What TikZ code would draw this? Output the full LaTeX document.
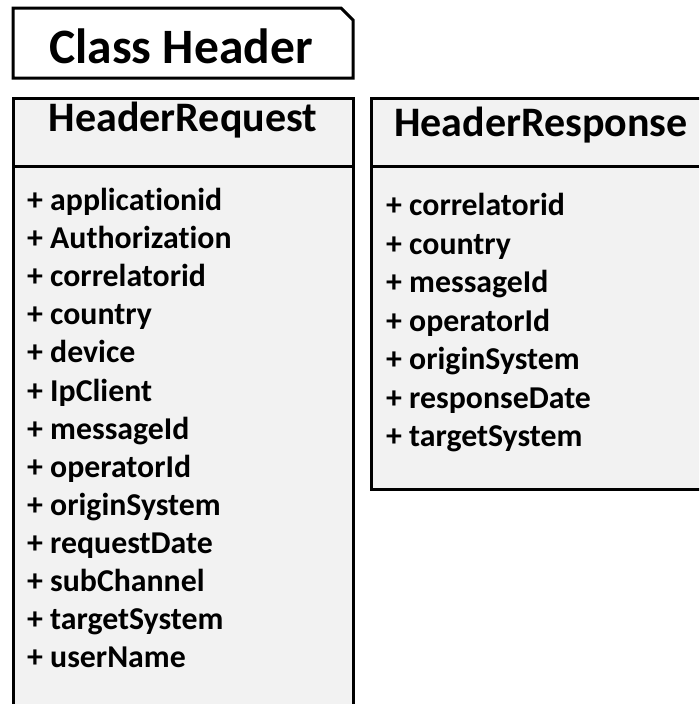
\documentclass[tikz,border=0pt]{standalone}
\usepackage{fontspec}
\setmainfont{Carlito}[Ligatures=NoCommon]
\begin{document}
\begin{tikzpicture}[x=1pt,y=-1pt,
  boxline/.style={draw=black,line width=3pt},
  classfill/.style={fill=black!5},
  titletext/.style={anchor=base,inner sep=0pt,font=\bfseries\fontsize{42}{48}\selectfont},
  attrtext/.style={anchor=base west,inner sep=0pt,font=\bfseries\fontsize{31.8}{36}\selectfont}]
\useasboundingbox (0,0) rectangle (699,704);

% package frame with cut corner
\draw[boxline,fill=white] (13,8) -- (341,8) -- (353,20) -- (353,78) -- (13,78) -- cycle;
\node[anchor=base,inner sep=0pt,font=\bfseries\fontsize{49.5}{56}\selectfont] (pkg) at (181,63) {Class Header};

% class boxes, running off the page edges
\begin{scope}
\clip (0,0) rectangle (699,704);
\draw[boxline,classfill] (13,98) rectangle (353,720);
\draw[boxline,classfill] (371,98) rectangle (712,489);
\end{scope}
\draw[boxline] (13,166) -- (353,166);
\draw[boxline] (371,166) -- (699,166);

\node[titletext] (reqtitle) at (183,131) {HeaderRequest};
\node[titletext] (restitle) at (541,136) {HeaderResponse};

\foreach \t [count=\i from 0] in {applicationid,Authorization,correlatorid,country,device,IpClient,messageId,operatorId,originSystem,requestDate,subChannel,targetSystem,userName}
  \node[attrtext] (req\i) at (27,210.5+38.1*\i) {+ \t};

\foreach \t [count=\i from 0] in {correlatorid,country,messageId,operatorId,originSystem,responseDate,targetSystem}
  \node[attrtext] (res\i) at (386,215.5+38.5*\i) {+ \t};
\end{tikzpicture}
\end{document}
